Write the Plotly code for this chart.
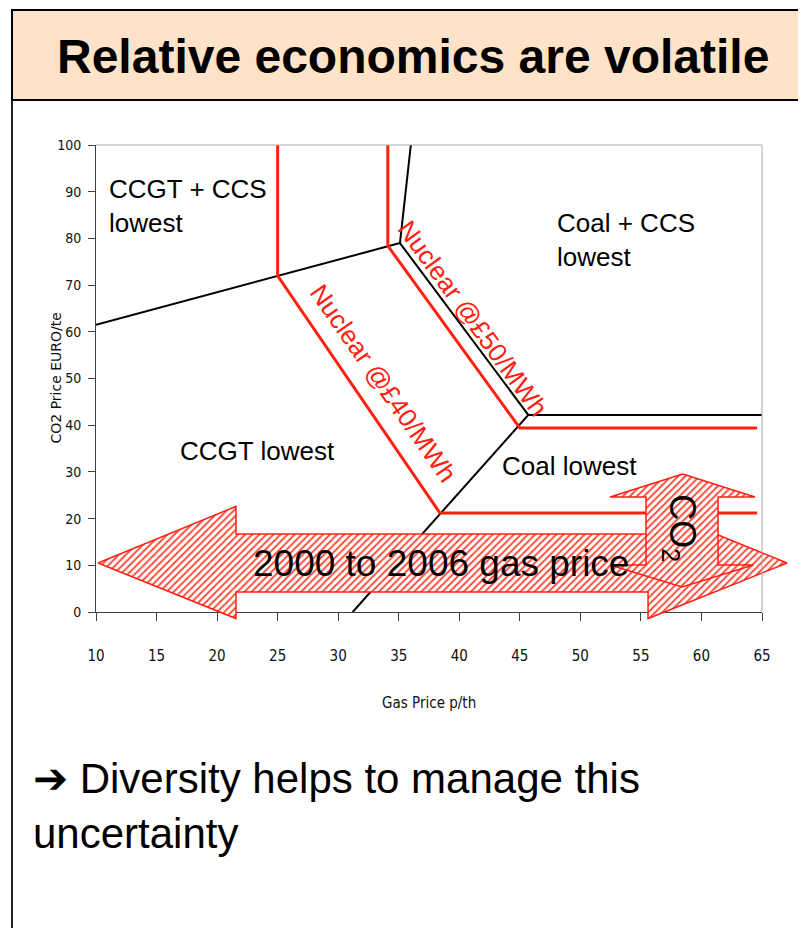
import plotly.graph_objects as go

# ---------------- data ----------------
gas_price_ticks = [10, 15, 20, 25, 30, 35, 40, 45, 50, 55, 60, 65]
co2_price_ticks = [0, 10, 20, 30, 40, 50, 60, 70, 80, 90, 100]

# black boundaries between cheapest technologies (gas price p/th, CO2 EUR/te)
black_x = [10, 35.1, None, 35.1, 36.0, None, 35.1, 45.7, 65, None, 45.7, 31.2]
black_y = [61.5, 79.0, None, 79.0, 100, None, 79.0, 42.2, 42.2, None, 42.2, 0]

# nuclear @ £40/MWh boundary
nuc40_x = [25, 25, 38.4, 64.6]
nuc40_y = [100, 72.0, 21.2, 21.2]

# nuclear @ £50/MWh boundary
nuc50_x = [34.1, 34.1, 45.0, 64.6]
nuc50_y = [100, 78.4, 39.4, 39.4]

# 2000-2006 gas price range double arrow
gas_arrow_x = [10.17, 21.56, 21.56, 55.59, 55.59, 67.07, 55.59, 55.59, 21.56, 21.56, 10.17]
gas_arrow_y = [10.5, 22.6, 16.7, 16.7, 22.6, 10.5, -1.4, 4.3, 4.3, -1.4, 10.5]

# CO2 price range double arrow
co2_arrow_x = [58.45, 64.42, 61.37, 61.37, 64.30, 58.40, 52.45, 55.42, 55.42, 52.45, 58.45]
co2_arrow_y = [29.55, 24.63, 24.63, 10.06, 10.06, 5.35, 10.06, 10.06, 24.63, 24.63, 29.55]

title_text = "Relative economics are volatile"
region_labels = ["CCGT + CCS<br>lowest", "Coal + CCS<br>lowest", "CCGT lowest", "Coal lowest"]
nuclear_labels = ["Nuclear @£50/MWh", "Nuclear @£40/MWh"]
gas_arrow_label = "2000 to 2006 gas price"
co2_arrow_label = "CO<sub>2</sub>"
x_title = "Gas Price p/th"
y_title = "CO2 Price EURO/te"
footer_text = "➔ Diversity helps to manage this<br>uncertainty"

# ---------------- layout geometry (page pixels) ----------------
W, H = 806, 928          # browser window
OFF = 8                  # default page body margin
FW, FH = W - OFF, H - OFF
PL, PR, PT, PB = 96, 762, 145, 612
X0, X1 = 10, 65
Y0, Y1 = 0, 100
ux = (PR - PL) / (X1 - X0)
uy = (PB - PT) / (Y1 - Y0)
x2_range = [X0 - (PL - OFF) / ux, X1 + (W - PR) / ux]
y2_range = [Y0 - (H - PB) / uy, Y1 + (PT - OFF) / uy]


def px(v):
    return (v - OFF) / FW


def py(v):
    return 1 - (v - OFF) / FH


RED = "#FF2010"
FONT = "Liberation Sans, Arial, Helvetica, sans-serif"
NARROW = "Liberation Sans Narrow, Arial Narrow, DejaVu Sans Condensed, sans-serif"

fig = go.Figure()

fig.add_trace(go.Scatter(x=black_x, y=black_y, mode="lines",
                         line=dict(color="black", width=2), hoverinfo="skip",
                         xaxis="x", yaxis="y"))
fig.add_trace(go.Scatter(x=nuc40_x, y=nuc40_y, mode="lines",
                         line=dict(color=RED, width=3), hoverinfo="skip",
                         xaxis="x", yaxis="y"))
fig.add_trace(go.Scatter(x=nuc50_x, y=nuc50_y, mode="lines",
                         line=dict(color=RED, width=3), hoverinfo="skip",
                         xaxis="x", yaxis="y"))

pattern = dict(shape="/", fgcolor="#FF4535", bgcolor="white", size=5, solidity=0.36)
fig.add_trace(go.Scatter(x=gas_arrow_x, y=gas_arrow_y, mode="lines", fill="toself",
                         fillpattern=pattern, fillcolor="white",
                         line=dict(color=RED, width=1.5), hoverinfo="skip",
                         xaxis="x2", yaxis="y2"))
fig.add_trace(go.Scatter(x=co2_arrow_x, y=co2_arrow_y, mode="lines", fill="toself",
                         fillpattern=pattern, fillcolor="white",
                         line=dict(color=RED, width=1.5), hoverinfo="skip",
                         xaxis="x2", yaxis="y2"))

annotations = [
    dict(text="<b>" + title_text + "</b>", x=px(413), y=py(57), xref="paper", yref="paper",
         xanchor="center", yanchor="middle", showarrow=False,
         font=dict(family=FONT, size=48, color="black")),
    dict(text=footer_text, x=px(31), y=py(806), xref="paper", yref="paper",
         xanchor="left", yanchor="middle", align="left", showarrow=False,
         font=dict(family=FONT, size=42, color="black")),
    dict(text=x_title, x=px((PL + PR) / 2), y=py(703), xref="paper", yref="paper",
         xanchor="center", yanchor="middle", showarrow=False,
         font=dict(family=NARROW, size=15, color="#111")),
    dict(text=y_title, x=px(55), y=py((PT + PB) / 2), xref="paper", yref="paper",
         xanchor="center", yanchor="middle", showarrow=False, textangle=-90,
         font=dict(family="DejaVu Sans, sans-serif", size=14, color="#111")),
    # region labels
    dict(text=region_labels[0], x=10.9, y=86.9, xref="x", yref="y", xanchor="left",
         yanchor="middle", align="left", showarrow=False,
         font=dict(family=FONT, size=26, color="black")),
    dict(text=region_labels[1], x=47.9, y=79.7, xref="x", yref="y", xanchor="left",
         yanchor="middle", align="left", showarrow=False,
         font=dict(family=FONT, size=26, color="black")),
    dict(text=region_labels[2], x=16.8, y=34.5, xref="x", yref="y", xanchor="left",
         yanchor="middle", align="left", showarrow=False,
         font=dict(family=FONT, size=26, color="black")),
    dict(text=region_labels[3], x=43.4, y=31.3, xref="x", yref="y", xanchor="left",
         yanchor="middle", align="left", showarrow=False,
         font=dict(family=FONT, size=26, color="black")),
    # nuclear labels
    dict(text=nuclear_labels[0], x=41.1, y=63.0, xref="x", yref="y", xanchor="center",
         yanchor="middle", textangle=54, showarrow=False,
         font=dict(family=FONT, size=26, color=RED)),
    dict(text=nuclear_labels[1], x=33.7, y=49.0, xref="x", yref="y", xanchor="center",
         yanchor="middle", textangle=55, showarrow=False,
         font=dict(family=FONT, size=26, color=RED)),
    # arrow labels
    dict(text=gas_arrow_label, x=38.45, y=10.3, xref="x", yref="y", xanchor="center",
         yanchor="middle", showarrow=False,
         font=dict(family=FONT, size=37, color="black")),
    dict(text=co2_arrow_label, x=58.2, y=18.0, xref="x", yref="y", xanchor="center",
         yanchor="middle", textangle=90, showarrow=False,
         font=dict(family=FONT, size=36, color="black")),
]

shapes = [
    # title box
    dict(type="rect", xref="paper", yref="paper", x0=px(12), x1=px(820), y0=py(100), y1=py(10),
         fillcolor="#FFE3C9", line=dict(color="black", width=2), layer="below"),
    # slide left border
    dict(type="line", xref="paper", yref="paper", x0=px(12), x1=px(12), y0=py(100), y1=py(940),
         line=dict(color="#222", width=2)),
    # plot top / right frame
    dict(type="line", xref="paper", yref="paper", x0=px(PL), x1=px(PR), y0=py(PT), y1=py(PT),
         line=dict(color="#A8A8A8", width=1)),
    dict(type="line", xref="paper", yref="paper", x0=px(PR), x1=px(PR), y0=py(PT), y1=py(PB),
         line=dict(color="#A8A8A8", width=1)),
]

fig.update_layout(
    width=FW, height=FH,
    margin=dict(l=0, r=0, t=0, b=0, autoexpand=False),
    template="none",
    paper_bgcolor="white",
    plot_bgcolor="rgba(0,0,0,0)",
    showlegend=False,
    xaxis=dict(domain=[px(PL), px(PR)], range=[X0, X1], tickmode="array",
               tickvals=gas_price_ticks, ticktext=[str(v) for v in gas_price_ticks],
               showgrid=False, zeroline=False, showline=True, linecolor="#404040",
               linewidth=1, ticks="outside", ticklen=8, tickcolor="#404040",
               ticklabelstandoff=22, automargin=False,
               tickfont=dict(family=NARROW, size=15, color="#111"), anchor="y"),
    yaxis=dict(domain=[py(PB), py(PT)], range=[Y0, Y1], tickmode="array",
               tickvals=co2_price_ticks, ticktext=[str(v) for v in co2_price_ticks],
               showgrid=False, zeroline=False, showline=True, linecolor="#404040",
               linewidth=1, ticks="outside", ticklen=7, tickcolor="#404040",
               ticklabelstandoff=4, automargin=False,
               tickfont=dict(family=NARROW, size=14, color="#111"), anchor="x"),
    xaxis2=dict(domain=[0, 1], range=x2_range, visible=False, anchor="y2", fixedrange=True),
    yaxis2=dict(domain=[0, 1], range=y2_range, visible=False, anchor="x2", fixedrange=True),
    annotations=annotations,
    shapes=shapes,
)

fig.write_html("out.html")
